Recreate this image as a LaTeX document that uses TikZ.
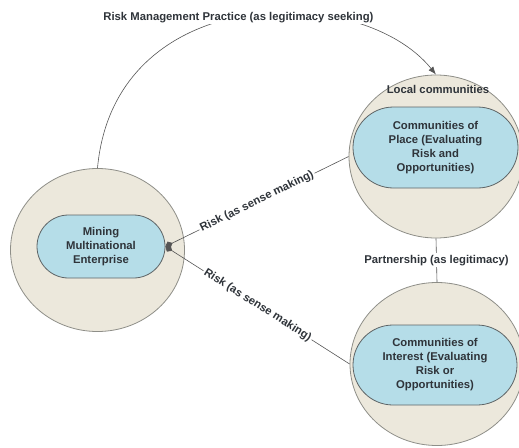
\documentclass[tikz,border=0pt]{standalone}
\usepackage{fontspec}
\setmainfont{Liberation Sans}
\usetikzlibrary{shapes.geometric,shapes.misc,arrows.meta}
\definecolor{beige}{HTML}{ECE8DC}
\definecolor{beigeline}{HTML}{8E8E88}
\definecolor{pillblue}{HTML}{B5DDE8}
\definecolor{pillline}{HTML}{5E6466}
\definecolor{txt}{HTML}{2F343A}
\definecolor{conn}{HTML}{555555}
\tikzset{
  outer/.style={ellipse, draw=beigeline, line width=0.8pt, fill=beige, minimum width=174pt, minimum height=163pt, inner sep=0pt},
  pill/.style={rounded rectangle, draw=pillline, line width=0.8pt, fill=pillblue, inner sep=0pt, align=center, text=txt,
    font=\fontsize{11.3}{14}\selectfont\bfseries},
  lbl/.style={font=\fontsize{11.3}{14}\selectfont\bfseries, text=txt, inner sep=1.5pt},
  conn/.style={draw=conn, line width=0.6pt},
}
\begin{document}
\begin{tikzpicture}[x=1pt,y=-1pt]
\useasboundingbox (0,0) rectangle (519,447);
% outer circles
\node[outer] (MC) at (97.5,250) {};
\node[outer] (LC) at (436,156.5) {};
\node[outer] (CIc) at (437,364) {};
% pills
\node[pill, minimum width=128pt, minimum height=63pt] (MME) at (101,246.5) {Mining\\Multinational\\Enterprise};
\node[pill, minimum width=165pt, minimum height=81pt] (CP) at (435.5,147.5) {Communities of\\Place (Evaluating\\Risk and\\Opportunities)};
\node[pill, minimum width=164pt, minimum height=80pt] (CI) at (435,365) {Communities of\\Interest (Evaluating\\Risk or\\Opportunities)};
\node[lbl] (LCL) at (438,89) {Local communities};
% connectors
\draw[conn, -{Latex[length=8pt,width=6pt]}] (MC.north) .. controls +(17,-187) and +(-75,-93) .. node[pos=0.485, lbl, fill=white] (RMP) {Risk Management Practice (as legitimacy seeking)} (LC.north);
\draw[conn, {Diamond[length=8pt,width=7pt]}-] (MME.east) -- node[lbl, fill=white, sloped] (R1) {Risk (as sense making)} (LC.west);
\draw[conn, {Diamond[length=8pt,width=7pt]}-] (MME.east) -- node[lbl, fill=white, sloped] (R2) {Risk (as sense making)} (CIc.west);
\draw[conn] (LC.south) -- node[lbl, fill=white] (PL) {Partnership (as legitimacy)} (CIc.north);
\end{tikzpicture}
\end{document}
